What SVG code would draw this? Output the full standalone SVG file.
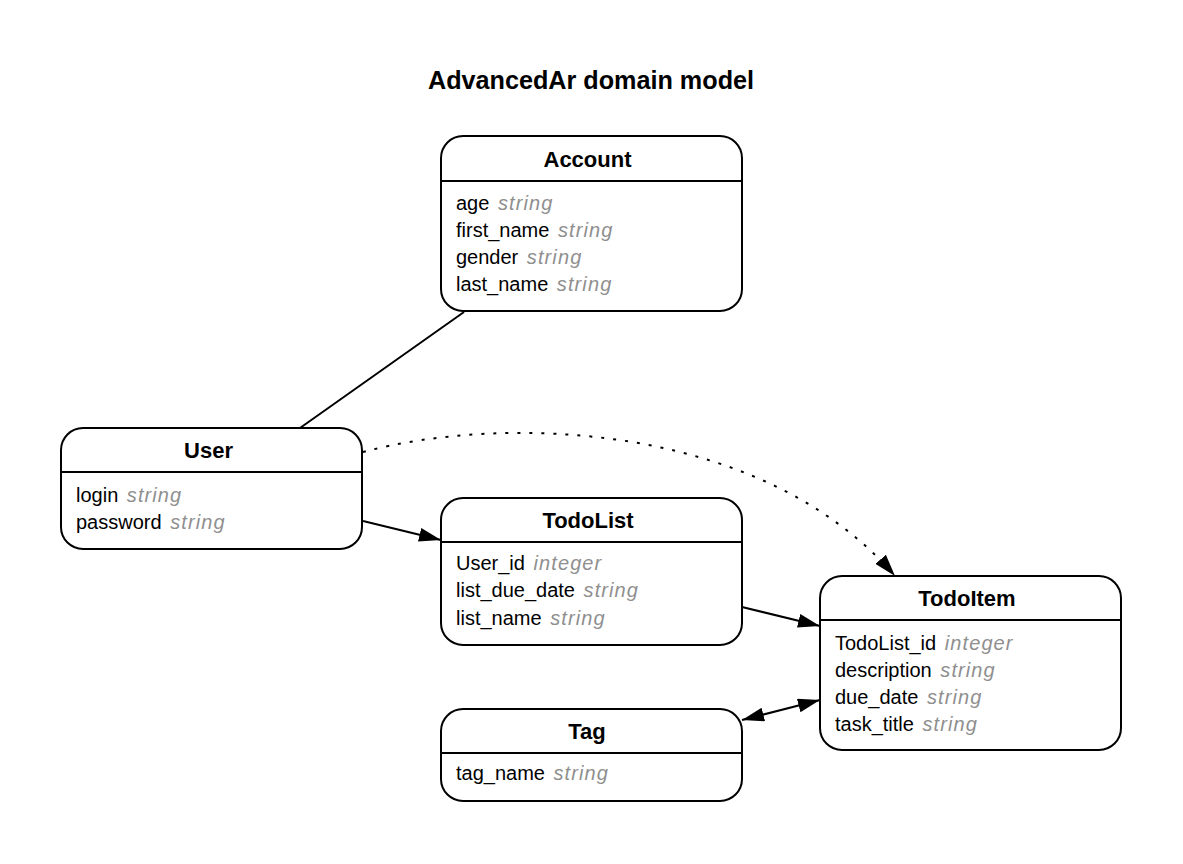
<svg xmlns="http://www.w3.org/2000/svg" width="1183" height="864" viewBox="0 0 1183 864">
<style>
.box{fill:#fff;stroke:#000;stroke-width:2}
.div{stroke:#000;stroke-width:2}
.t{font-family:"Liberation Sans",Arial,sans-serif;font-weight:bold;font-size:22px;text-anchor:middle;fill:#000}
.f{font-family:"Liberation Sans",Arial,sans-serif;font-size:20px;fill:#000}
.ty{fill:#8f8f8f;font-style:italic;letter-spacing:1.1px}
.e{fill:none;stroke:#000;stroke-width:2}
</style>
<defs>
<marker id="a" viewBox="0 0 22 14" refX="22" refY="7" markerWidth="22" markerHeight="14" markerUnits="userSpaceOnUse" orient="auto-start-reverse">
<path d="M0,0 L22,7 L0,14 z" fill="#000"/>
</marker>
</defs>
<rect width="1183" height="864" fill="#fff"/>
<text x="591" y="89" font-family="Liberation Sans,Arial,sans-serif" font-weight="bold" font-size="25.2" text-anchor="middle">AdvancedAr domain model</text>
<g id="edges">
<path class="e" d="M464,312 L300,428"/>
<path class="e" d="M363,521 L441,540" marker-end="url(#a)"/>
<path class="e" d="M363,452 C500,415 760,420 895,576" stroke-dasharray="3,9" marker-end="url(#a)"/>
<path class="e" d="M742,607 L820,626" marker-end="url(#a)"/>
<path class="e" d="M742,720 L820,700" marker-start="url(#a)" marker-end="url(#a)"/>
</g>
<g id="Account">
<rect class="box" x="441" y="136" width="301" height="175" rx="22"/>
<line class="div" x1="441" y1="181" x2="742" y2="181"/>
<text class="t" x="587.5" y="167">Account</text>
<text class="f" x="456" y="210">age <tspan class="ty" dx="3">string</tspan></text>
<text class="f" x="456" y="237">first_name <tspan class="ty" dx="3">string</tspan></text>
<text class="f" x="456" y="264">gender <tspan class="ty" dx="3">string</tspan></text>
<text class="f" x="456" y="291">last_name <tspan class="ty" dx="3">string</tspan></text>
</g>
<g id="User">
<rect class="box" x="61" y="428" width="301" height="121" rx="22"/>
<line class="div" x1="61" y1="472" x2="362" y2="472"/>
<text class="t" x="208.5" y="458">User</text>
<text class="f" x="76" y="502">login <tspan class="ty" dx="3">string</tspan></text>
<text class="f" x="76" y="529">password <tspan class="ty" dx="3">string</tspan></text>
</g>
<g id="TodoList">
<rect class="box" x="441" y="498" width="301" height="147" rx="22"/>
<line class="div" x1="441" y1="542" x2="742" y2="542"/>
<text class="t" x="588" y="528">TodoList</text>
<text class="f" x="456" y="570">User_id <tspan class="ty" dx="3">integer</tspan></text>
<text class="f" x="456" y="597">list_due_date <tspan class="ty" dx="3">string</tspan></text>
<text class="f" x="456" y="625">list_name <tspan class="ty" dx="3">string</tspan></text>
</g>
<g id="TodoItem">
<rect class="box" x="820" y="576" width="301" height="174" rx="22"/>
<line class="div" x1="820" y1="620" x2="1121" y2="620"/>
<text class="t" x="967" y="606">TodoItem</text>
<text class="f" x="835" y="650">TodoList_id <tspan class="ty" dx="3">integer</tspan></text>
<text class="f" x="835" y="677">description <tspan class="ty" dx="3">string</tspan></text>
<text class="f" x="835" y="704">due_date <tspan class="ty" dx="3">string</tspan></text>
<text class="f" x="835" y="731">task_title <tspan class="ty" dx="3">string</tspan></text>
</g>
<g id="Tag">
<rect class="box" x="441" y="709" width="301" height="92" rx="22"/>
<line class="div" x1="441" y1="753" x2="742" y2="753"/>
<text class="t" x="587" y="739">Tag</text>
<text class="f" x="456" y="780">tag_name <tspan class="ty" dx="3">string</tspan></text>
</g>
</svg>
